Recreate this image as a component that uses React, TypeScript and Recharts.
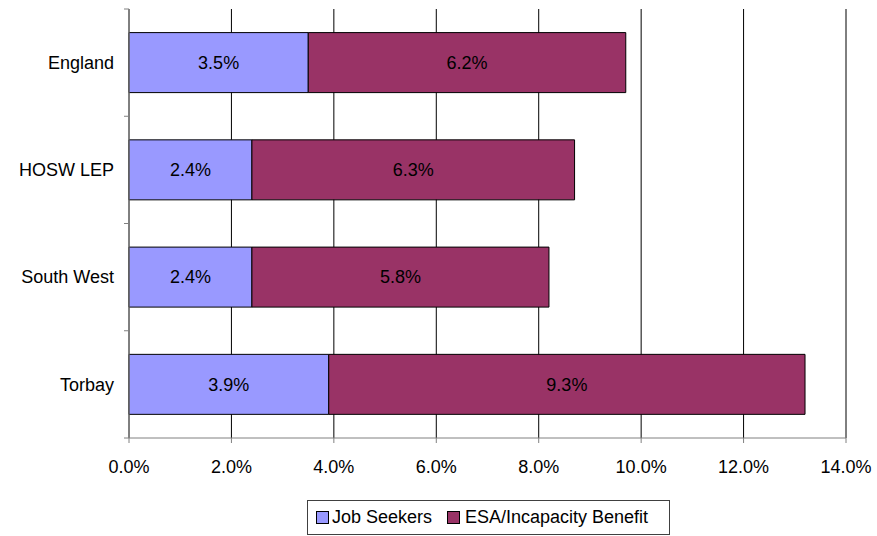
import React from 'react';
import { BarChart, Bar, XAxis, YAxis, CartesianGrid, LabelList, Legend } from 'recharts';

const categories = ['England', 'HOSW LEP', 'South West', 'Torbay'];
const jobSeekers = [3.5, 2.4, 2.4, 3.9];
const esaIncapacity = [6.2, 6.3, 5.8, 9.3];
const xTicks = [0, 2, 4, 6, 8, 10, 12, 14];
const seriesNames = ['Job Seekers', 'ESA/Incapacity Benefit'];
const seriesColors = ['#9999FF', '#993366'];

const data = categories.map((c, i) => ({ name: c, js: jobSeekers[i], esa: esaIncapacity[i] }));

const W = 877;
const H = 536;
const M = { top: 9, right: 31, left: 0, bottom: 0 };
const X_AXIS_H = 98;
const Y_AXIS_W = 129;
const FS = 18;
const FONT = '"Liberation Sans", Arial, sans-serif';
const plotH = H - M.top - M.bottom - X_AXIS_H;
const band = plotH / categories.length;
const legendTextWidths = [105, 195];

const YTick = (props: any) => {
  const { y, payload, index } = props;
  const ax = Y_AXIS_W;
  return (
    <g>
      <line x1={ax - 5} x2={ax} y1={y - band / 2} y2={y - band / 2} stroke="#808080" />
      {index === categories.length - 1 && (
        <line x1={ax - 5} x2={ax} y1={y + band / 2} y2={y + band / 2} stroke="#808080" />
      )}
      <text x={ax - 15} y={y} dy="0.35em" textAnchor="end" fontSize={FS} fill="#000" fontFamily={FONT}>
        {payload.value}
      </text>
    </g>
  );
};

const LegendContent = () => (
  <div
    style={{
      border: '1px solid #404040',
      display: 'flex',
      alignItems: 'center',
      height: 35,
      padding: '0 9px 0 8px',
      fontFamily: FONT,
      fontSize: FS,
      color: '#000',
      background: '#fff',
      boxSizing: 'border-box',
      whiteSpace: 'nowrap',
    }}
  >
    {seriesNames.map((n, i) => (
      <span key={n} style={{ display: 'flex', alignItems: 'center', marginRight: i === 0 ? 10 : 0 }}>
        <span
          style={{
            display: 'inline-block',
            width: 11,
            height: 11,
            background: seriesColors[i],
            border: '1px solid #000',
            marginRight: i === 0 ? 3 : 5,
          }}
        />
        <span style={{ display: 'inline-block', width: legendTextWidths[i] }}>{n}</span>
      </span>
    ))}
  </div>
);

export default function App() {
  return (
    <div style={{ position: 'absolute', left: 0, top: 0, width: W, height: H, background: '#fff' }}>
      <BarChart width={W} height={H} data={data} layout="vertical" margin={M} barCategoryGap="22%">
        <CartesianGrid horizontal={false} vertical={true} stroke="#000" strokeWidth={1} />
        <XAxis
          type="number"
          domain={[0, 14]}
          ticks={xTicks}
          interval={0}
          tickFormatter={(v: number) => v.toFixed(1) + '%'}
          height={X_AXIS_H}
          stroke="#808080"
          tickSize={5}
          tickMargin={17}
          tick={{ fontSize: FS, fill: '#000', fontFamily: FONT }}
        />
        <YAxis
          type="category"
          dataKey="name"
          width={Y_AXIS_W}
          stroke="#808080"
          tickLine={false}
          tick={<YTick />}
        />
        <Legend
          verticalAlign="middle"
          align="center"
          content={<LegendContent />}
          wrapperStyle={{ position: 'absolute', left: 307, top: 500, width: 'auto' }}
        />
        <Bar dataKey="js" name={seriesNames[0]} stackId="a" fill={seriesColors[0]} stroke="#000" strokeWidth={1} isAnimationActive={false}>
          <LabelList dataKey="js" position="center" formatter={(v: any) => Number(v).toFixed(1) + '%'} fill="#000" fontSize={FS} fontFamily={FONT} />
        </Bar>
        <Bar dataKey="esa" name={seriesNames[1]} stackId="a" fill={seriesColors[1]} stroke="#000" strokeWidth={1} isAnimationActive={false}>
          <LabelList dataKey="esa" position="center" formatter={(v: any) => Number(v).toFixed(1) + '%'} fill="#000" fontSize={FS} fontFamily={FONT} />
        </Bar>
      </BarChart>
    </div>
  );
}
